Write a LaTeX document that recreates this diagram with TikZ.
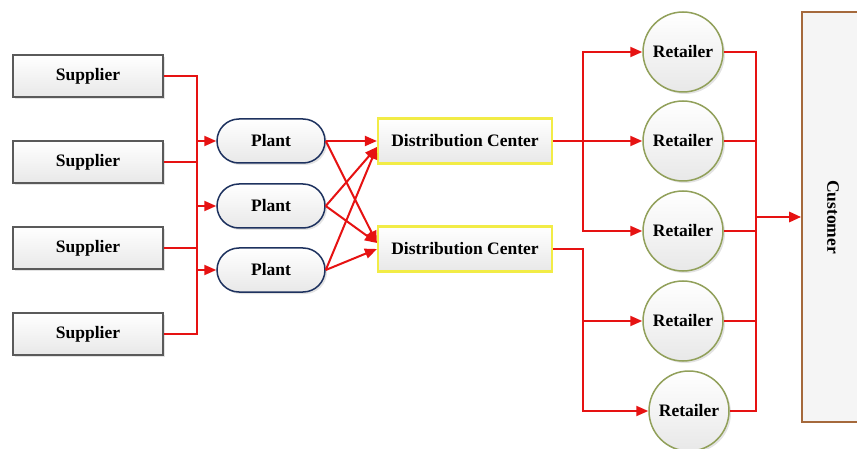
\documentclass[tikz,border=0pt]{standalone}
\usepackage{fontspec}
\setmainfont{Liberation Serif}
\usetikzlibrary{arrows.meta,calc,shadows}

\definecolor{flowred}{RGB}{230,18,18}
\definecolor{supborder}{RGB}{90,90,90}
\definecolor{plantborder}{RGB}{30,50,95}
\definecolor{dcborder}{RGB}{242,236,70}
\definecolor{retborder}{RGB}{145,160,90}
\definecolor{custborder}{RGB}{165,105,60}

\tikzset{
  every node/.style={font=\fontsize{17.5}{20}\selectfont\bfseries, text=black},
  boxfill/.style={top color=white, bottom color=gray!18},
  soft/.style={drop shadow={opacity=0.22, shadow xshift=2pt, shadow yshift=-2pt}},
  supbox/.style={rectangle, draw=supborder, line width=1.5pt, boxfill, soft,
    minimum width=150pt, minimum height=42pt},
  plantbox/.style={rectangle, rounded corners=22pt, draw=plantborder, line width=1.5pt,
    boxfill, soft, minimum width=108pt, minimum height=44pt},
  dcbox/.style={rectangle, draw=dcborder, line width=2.2pt, boxfill,
    minimum width=174pt, minimum height=45pt},
  retcircle/.style={circle, draw=retborder, line width=1.5pt, boxfill, soft,
    minimum size=80pt, inner sep=0pt},
  custbox/.style={rectangle, draw=custborder, line width=1.6pt, fill=gray!8,
    minimum width=62pt, minimum height=410pt},
  flow/.style={draw=flowred, line width=2pt},
  flowarrow/.style={flow, -{Triangle[length=12pt,width=10pt]}},
}

\begin{document}
\begin{tikzpicture}[x=1pt,y=-1pt]
  \useasboundingbox (0,0) rectangle (857,449);
  \fill[white] (0,0) rectangle (857,449);

  % suppliers
  \node[supbox] (s1) at (88,76)  {Supplier};
  \node[supbox] (s2) at (88,162) {Supplier};
  \node[supbox] (s3) at (88,248) {Supplier};
  \node[supbox] (s4) at (88,334) {Supplier};

  % plants
  \node[plantbox] (p1) at (271,141) {Plant};
  \node[plantbox] (p2) at (271,206) {Plant};
  \node[plantbox] (p3) at (271,270) {Plant};

  % distribution centers
  \node[dcbox] (d1) at (465,141) {Distribution Center};
  \node[dcbox] (d2) at (465,249) {Distribution Center};

  % retailers
  \node[retcircle] (r1) at (683,52)  {Retailer};
  \node[retcircle] (r2) at (683,141) {Retailer};
  \node[retcircle] (r3) at (683,231) {Retailer};
  \node[retcircle] (r4) at (683,321) {Retailer};
  \node[retcircle] (r5) at (689,411) {Retailer};

  % customer
  \node[custbox] (cust) at (833,217) {};
  \node[rotate=-90] (custlabel) at (cust.center) {Customer};

  % bus lines
  \coordinate (sbus) at (197,0);
  \coordinate (dbus) at (583,0);
  \coordinate (rbus) at (756,0);

  % suppliers to plants
  \draw[flow] (s1.east) -- (sbus |- s1.east) -- (sbus |- s4.east) -- (s4.east);
  \draw[flow] (s2.east) -- (sbus |- s2.east);
  \draw[flow] (s3.east) -- (sbus |- s3.east);
  \draw[flowarrow] (sbus |- p1.west) -- (p1.west);
  \draw[flowarrow] (sbus |- p2.west) -- (p2.west);
  \draw[flowarrow] (sbus |- p3.west) -- (p3.west);

  % plants to distribution centers
  \draw[flowarrow] (p1.east) -- (d1.west);
  \draw[flowarrow] (p2.east) -- ($(d1.west)+(0,6)$);
  \draw[flowarrow] (p3.east) -- ($(d1.west)+(0,6)$);
  \draw[flowarrow] (p1.east) -- ($(d2.west)+(0,-6)$);
  \draw[flowarrow] (p2.east) -- ($(d2.west)+(0,-6)$);
  \draw[flowarrow] (p3.east) -- (d2.west);

  % distribution centers to retailers
  \draw[flowarrow] (d1.east) -- (dbus |- d1.east) |- (r1.west);
  \draw[flowarrow] (dbus |- d1.east) -- (r2.west);
  \draw[flowarrow] (dbus |- d1.east) |- (r3.west);
  \draw[flowarrow] (d2.east) -- (dbus |- d2.east) |- (r4.west);
  \draw[flowarrow] (dbus |- d2.east) |- (r5.west);

  % retailers to customer
  \draw[flow] (r1.east) -- (rbus |- r1.east) -- (rbus |- r5.east) -- (r5.east);
  \draw[flow] (r2.east) -- (rbus |- r2.east);
  \draw[flow] (r3.east) -- (rbus |- r3.east);
  \draw[flow] (r4.east) -- (rbus |- r4.east);
  \draw[flowarrow, line width=2.8pt] (rbus |- cust.west) -- (cust.west);
\end{tikzpicture}
\end{document}
